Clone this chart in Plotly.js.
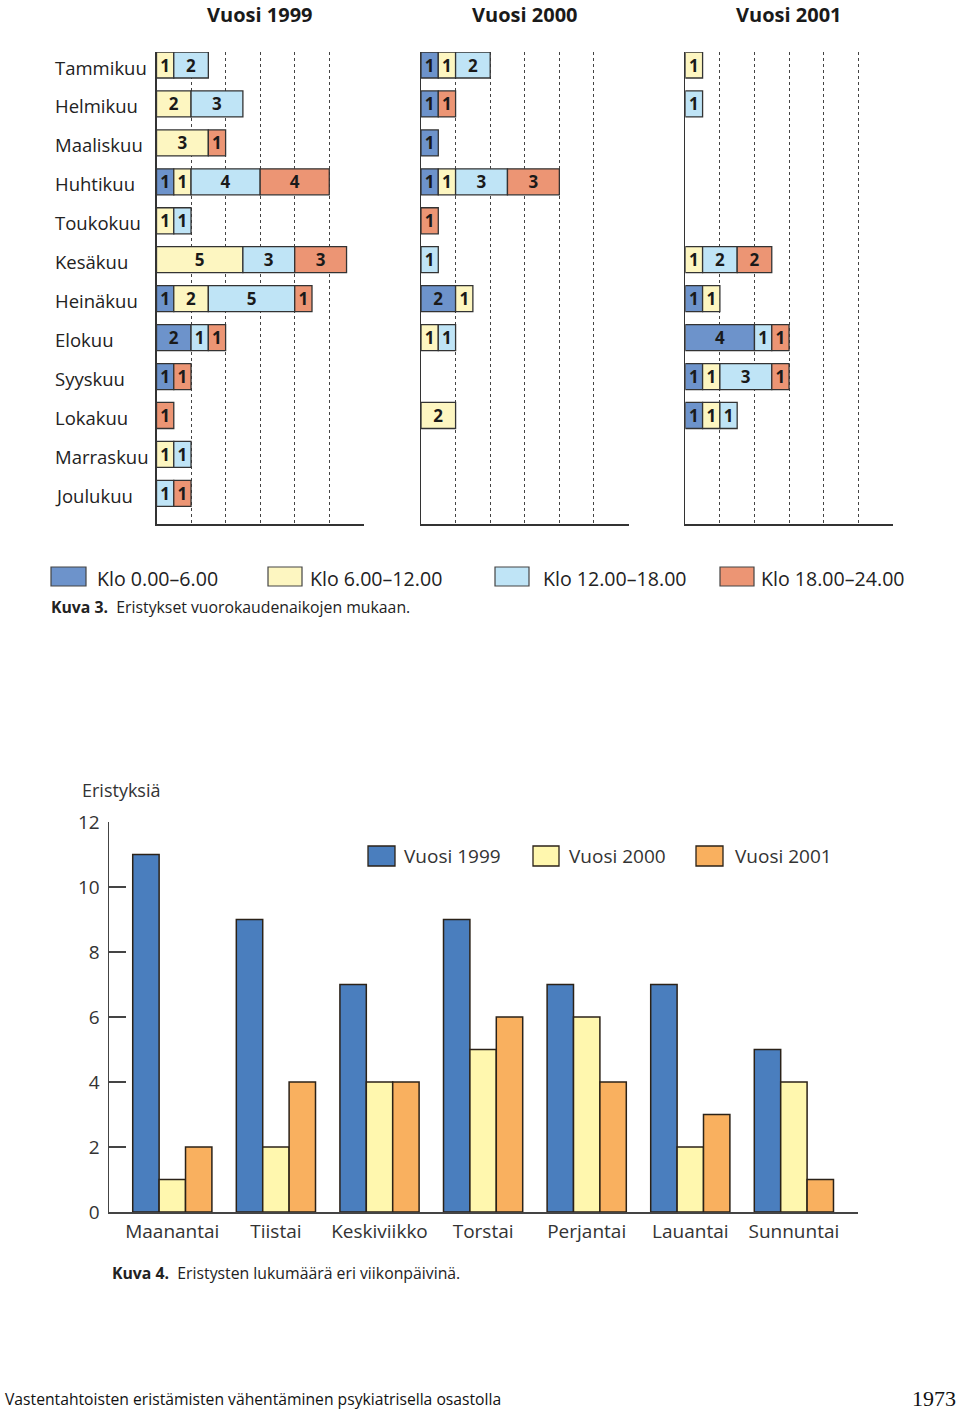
<!DOCTYPE html>
<html>
<head>
<meta charset="utf-8">
<script src="https://cdn.plot.ly/plotly-3.0.1.min.js"></script>
<style>html,body{margin:0;padding:0;background:#fff;}#chart{width:960px;height:1410px;}</style>
</head>
<body>
<div id="chart"></div>
<script>
// ---------- DATA: Kuva 3 ----------
const months = ['Tammikuu','Helmikuu','Maaliskuu','Huhtikuu','Toukokuu','Kesäkuu','Heinäkuu','Elokuu','Syyskuu','Lokakuu','Marraskuu','Joulukuu'];
const timeSlots = ['Klo 0.00–6.00','Klo 6.00–12.00','Klo 12.00–18.00','Klo 18.00–24.00'];
const yearTitles = ['Vuosi 1999','Vuosi 2000','Vuosi 2001'];

const y1999_klo0  = [0,0,0,1,0,0,1,2,1,0,0,0];
const y1999_klo6  = [1,2,3,1,1,5,2,0,0,0,1,0];
const y1999_klo12 = [2,3,0,4,1,3,5,1,0,0,1,1];
const y1999_klo18 = [0,0,1,4,0,3,1,1,1,1,0,1];

const y2000_klo0  = [1,1,1,1,0,0,2,0,0,0,0,0];
const y2000_klo6  = [1,0,0,1,0,0,1,1,0,2,0,0];
const y2000_klo12 = [2,0,0,3,0,1,0,1,0,0,0,0];
const y2000_klo18 = [0,1,0,3,1,0,0,0,0,0,0,0];

const y2001_klo0  = [0,0,0,0,0,0,1,4,1,1,0,0];
const y2001_klo6  = [1,0,0,0,0,1,1,0,1,1,0,0];
const y2001_klo12 = [0,1,0,0,0,2,0,1,3,1,0,0];
const y2001_klo18 = [0,0,0,0,0,2,0,1,1,0,0,0];

// ---------- DATA: Kuva 4 ----------
const weekdays = ['Maanantai','Tiistai','Keskiviikko','Torstai','Perjantai','Lauantai','Sunnuntai'];
const dayYears = ['Vuosi 1999','Vuosi 2000','Vuosi 2001'];
const days1999 = [11,9,7,9,7,7,5];
const days2000 = [1,2,4,5,6,2,4];
const days2001 = [2,4,4,6,4,3,1];

// ---------- STYLE ----------
const slotColors = ['#6d93cb','#fdf6c1','#bfe4f6','#ec9574'];
const dayColors = ['#4a7ebe','#fff7ae','#f9b05f'];
const FONT = 'Open Sans, Noto Sans, sans-serif';
const W = 960, H = 1410;
const px = v => v / W;
const py = v => 1 - v / H;

const yearData = [
  [y1999_klo0, y1999_klo6, y1999_klo12, y1999_klo18],
  [y2000_klo0, y2000_klo6, y2000_klo12, y2000_klo18],
  [y2001_klo0, y2001_klo6, y2001_klo12, y2001_klo18]
];
const panelX = [[156.5, 364], [421, 628.7], [685.3, 893]];
const topYDomain = [py(524), py(52)];

const traces = [];
yearData.forEach((slots, p) => {
  const cum = months.map(() => 0);
  slots.forEach((vals, s) => {
    const base = cum.slice();
    traces.push({
      type: 'bar', orientation: 'h',
      y: months, x: vals.map(v => v ? v : null), base: base,
      xaxis: p === 0 ? 'x' : 'x' + (p + 1), yaxis: p === 0 ? 'y' : 'y' + (p + 1),
      width: 0.668,
      marker: {color: slotColors[s], line: {color: '#333', width: 1.3}},
      text: vals.map(v => v ? String(v) : ''),
      textposition: 'inside', insidetextanchor: 'middle', textangle: 0, constraintext: 'none',
      textfont: {family: FONT, size: 17, color: '#1a1a1a', weight: 'bold'},
      hoverinfo: 'skip', name: timeSlots[s], showlegend: false
    });
    vals.forEach((v, i) => cum[i] += v);
  });
});

[days1999, days2000, days2001].forEach((vals, k) => {
  traces.push({
    type: 'bar', x: weekdays, y: vals, xaxis: 'x4', yaxis: 'y4',
    width: 0.2548, offset: -0.382 + k * 0.2548,
    marker: {color: dayColors[k], line: {color: '#2b2218', width: 1.5}},
    hoverinfo: 'skip', name: dayYears[k], showlegend: false
  });
});

function topX(p) {
  return {domain: [px(panelX[p][0]), px(panelX[p][1])], range: [0, 12.01], anchor: p === 0 ? 'y' : 'y' + (p + 1),
    showgrid: true, gridcolor: '#444', griddash: 'dot', gridwidth: 1, tick0: 0, dtick: 2,
    showticklabels: false, ticks: '', zeroline: false, showline: true, linecolor: '#333', linewidth: 1.5, fixedrange: true};
}
function topY(p) {
  return {domain: topYDomain, type: 'category', categoryarray: months, categoryorder: 'array',
    range: [11.787, -0.334], anchor: p === 0 ? 'x' : 'x' + (p + 1),
    showticklabels: false, showgrid: false, zeroline: false, ticks: '',
    showline: true, linecolor: '#333', linewidth: 1.5, fixedrange: true};
}

const annotations = [];
const shapes = [];
// year titles
yearTitles.forEach((t, p) => annotations.push({
  text: '<b>' + t + '</b>', xref: 'paper', yref: 'paper',
  x: px((panelX[p][0] + panelX[p][1]) / 2), y: py(15), xanchor: 'center', yanchor: 'middle',
  showarrow: false, font: {family: FONT, size: 20, color: '#1a1a1a'}
}));
// month labels
months.forEach((m, i) => annotations.push({
  text: m, xref: 'paper', yref: 'y', x: px(53), y: i, yshift: -2, xanchor: 'left', yanchor: 'middle',
  showarrow: false, font: {family: FONT, size: 18.5, color: '#222'}
}));
// top legend
const legX = [[51, 86, 95], [268, 302, 308], [495, 529, 541], [720, 754, 759]];
timeSlots.forEach((t, s) => {
  shapes.push({type: 'rect', xref: 'paper', yref: 'paper', x0: px(legX[s][0]), x1: px(legX[s][1]),
    y0: py(586), y1: py(567), fillcolor: slotColors[s], line: {color: '#444', width: 1.2}});
  annotations.push({text: t, xref: 'paper', yref: 'paper', x: px(legX[s][2]), y: py(578),
    xanchor: 'left', yanchor: 'middle', showarrow: false, font: {family: FONT, size: 19.6, color: '#222'}});
});
annotations.push({text: '<b>Kuva 3.</b>  Eristykset vuorokaudenaikojen mukaan.', xref: 'paper', yref: 'paper',
  x: px(49), y: py(607), xanchor: 'left', yanchor: 'middle', showarrow: false,
  font: {family: FONT, size: 15.8, color: '#222'}});

// bottom chart
annotations.push({text: 'Eristyksiä', xref: 'paper', yref: 'paper', x: px(80), y: py(790),
  xanchor: 'left', yanchor: 'middle', showarrow: false, font: {family: FONT, size: 18, color: '#333'}});
const leg2X = [[368, 395, 402], [533, 559, 567], [696, 723, 733]];
dayYears.forEach((t, k) => {
  shapes.push({type: 'rect', xref: 'paper', yref: 'paper', x0: px(leg2X[k][0]), x1: px(leg2X[k][1]),
    y0: py(866), y1: py(846), fillcolor: dayColors[k], line: {color: '#2b2218', width: 1.3}});
  annotations.push({text: t, xref: 'paper', yref: 'paper', x: px(leg2X[k][2]), y: py(856),
    xanchor: 'left', yanchor: 'middle', showarrow: false, font: {family: FONT, size: 19, color: '#333'}});
});
annotations.push({text: '<b>Kuva 4.</b>  Eristysten lukumäärä eri viikonpäivinä.', xref: 'paper', yref: 'paper',
  x: px(110), y: py(1273), xanchor: 'left', yanchor: 'middle', showarrow: false,
  font: {family: FONT, size: 15.8, color: '#222'}});

// footer
annotations.push({text: 'Vastentahtoisten eristämisten vähentäminen psykiatrisella osastolla', xref: 'paper', yref: 'paper',
  x: px(3), y: py(1399), xanchor: 'left', yanchor: 'middle', showarrow: false,
  font: {family: FONT, size: 15.7, color: '#111'}});
annotations.push({text: '1973', xref: 'paper', yref: 'paper',
  x: px(958), y: py(1398), xanchor: 'right', yanchor: 'middle', showarrow: false,
  font: {family: 'Liberation Serif, DejaVu Serif, serif', size: 22, color: '#111'}});

const layout = {
  width: W, height: H, margin: {l: 0, r: 0, t: 0, b: 0},
  paper_bgcolor: '#fff', plot_bgcolor: 'rgba(0,0,0,0)',
  barmode: 'overlay', showlegend: false, hovermode: false,
  font: {family: FONT, color: '#222'},
  xaxis: topX(0), yaxis: topY(0),
  xaxis2: topX(1), yaxis2: topY(1),
  xaxis3: topX(2), yaxis3: topY(2),
  xaxis4: {domain: [px(109), px(858)], anchor: 'y4', type: 'category', categoryarray: weekdays,
    range: [-0.611, 6.619], showline: true, linecolor: '#444', linewidth: 1.5, ticks: '', showgrid: false,
    zeroline: false, tickfont: {family: FONT, size: 19, color: '#333'}, ticklabelstandoff: 2, fixedrange: true},
  yaxis4: {domain: [py(1212), py(822)], anchor: 'x4', range: [0, 12], tick0: 0, dtick: 2,
    ticks: 'inside', ticklen: 17, tickwidth: 1.5, tickcolor: '#444', showline: true, linecolor: '#444',
    linewidth: 1.5, showgrid: false, zeroline: false, tickfont: {family: FONT, size: 19, color: '#333'},
    ticklabelstandoff: 4, fixedrange: true},
  annotations: annotations, shapes: shapes
};

Plotly.newPlot('chart', traces, layout, {staticPlot: true, displayModeBar: false});
</script>
</body>
</html>
